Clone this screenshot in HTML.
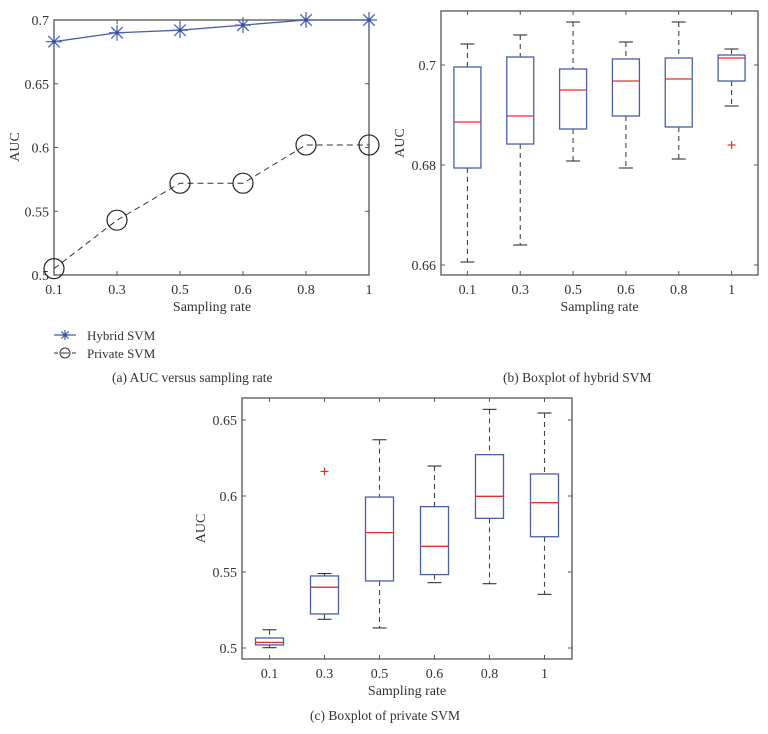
<!DOCTYPE html>
<html><head><meta charset="utf-8"><style>
html,body{margin:0;padding:0;background:#fff;}
svg{display:block;font-family:"Liberation Serif",serif;}
</style></head><body>
<svg id="fig" width="768" height="734" viewBox="0 0 768 734" xmlns="http://www.w3.org/2000/svg"></svg>
<script>
// Panel (a) data
const catsA = ["0.1","0.3","0.5","0.6","0.8","1"];
const hybridA = [0.683,0.690,0.692,0.696,0.700,0.700];
const privateA = [0.505,0.543,0.572,0.572,0.602,0.602];
const ticksA = [0.5,0.55,0.6,0.65,0.7];
const tickLabelsA = ["0.5","0.55","0.6","0.65","0.7"];
// Panel (b) data: hybrid boxplot
const catsB = ["0.1","0.3","0.5","0.6","0.8","1"];
const bLow = [0.6606,0.6640,0.6808,0.6794,0.6812,0.6918];
const bQ1 = [0.6794,0.6842,0.6872,0.6898,0.6876,0.6968];
const bMed = [0.6886,0.6898,0.6950,0.6968,0.6972,0.7014];
const bQ3 = [0.6996,0.7016,0.6992,0.7012,0.7014,0.7020];
const bHigh = [0.7042,0.7060,0.7086,0.7046,0.7086,0.7032];
const bOutCat = [5];
const bOutVal = [0.6840];
const ticksB = [0.66,0.68,0.7];
const tickLabelsB = ["0.66","0.68","0.7"];
// Panel (c) data: private boxplot
const catsC = ["0.1","0.3","0.5","0.6","0.8","1"];
const cLow = [0.5002,0.5189,0.5132,0.5430,0.5423,0.5353];
const cQ1 = [0.5020,0.5224,0.5441,0.5483,0.5853,0.5732];
const cMed = [0.5037,0.5400,0.5759,0.5669,0.5998,0.5956];
const cQ3 = [0.5066,0.5474,0.5993,0.5930,0.6272,0.6145];
const cHigh = [0.5120,0.5490,0.6370,0.6197,0.6570,0.6546];
const cOutCat = [1];
const cOutVal = [0.6162];
const ticksC = [0.5,0.55,0.6,0.65];
const tickLabelsC = ["0.5","0.55","0.6","0.65"];

const svg = document.getElementById('fig');
const NS = "http://www.w3.org/2000/svg";
function mk(tag, attrs, parent){
  const e = document.createElementNS(NS, tag);
  for (const k in attrs) e.setAttribute(k, attrs[k]);
  (parent||svg).appendChild(e);
  return e;
}
function txt(x,y,s,size,anchor,parent){
  const t = mk('text',{x:x,y:y,'font-size':size,'text-anchor':anchor||'middle',fill:'#333'},parent);
  t.textContent = s;
  return t;
}
function frame(g, L,T,R,B, cats, xf, ticks, labels, yf, name){
  const fr = mk('rect',{x:L,y:T,width:R-L,height:B-T,fill:'none',stroke:'#555','stroke-width':1.3},g);
  
  
  cats.forEach((c,i)=>{
    const x = xf(i);
    mk('line',{x1:x,y1:B,x2:x,y2:B-4,stroke:'#555'},g);
    mk('line',{x1:x,y1:T,x2:x,y2:T+4,stroke:'#555'},g);
    const t = txt(x,B+19,c,14,'middle',g);
    
    
  });
  ticks.forEach((v,i)=>{
    const y = yf(v);
    mk('line',{x1:L,y1:y,x2:L+4,y2:y,stroke:'#555'},g);
    mk('line',{x1:R,y1:y,x2:R-4,y2:y,stroke:'#555'},g);
    const t = txt(L-5,y+5,labels[i],14,'end',g);
    
    
  });
}

// ---------- Panel (a)
(function(){
  const g = mk('g',{});
  
  
  const L=54,R=369,T=20,B=275;
  const xf = i => L + i*(R-L)/(catsA.length-1);
  const yf = v => B - (v-0.5)/(0.7-0.5)*(B-T);
  frame(g,L,T,R,B,catsA,xf,ticksA,tickLabelsA,yf,'panel-a');
  const pp = privateA.map((v,i)=>xf(i)+','+yf(v)).join(' ');
  const pl = mk('polyline',{points:pp,fill:'none',stroke:'#333','stroke-width':1,'stroke-dasharray':'6,4'},g);
  
  
  privateA.forEach((v,i)=>{
    const c = mk('circle',{cx:xf(i),cy:yf(v),r:10,fill:'none',stroke:'#222','stroke-width':1.2},g);
    
    
  });
  const hp = hybridA.map((v,i)=>xf(i)+','+yf(v)).join(' ');
  const hl = mk('polyline',{points:hp,fill:'none',stroke:'#4a5fa8','stroke-width':1.3},g);
  
  
  function star(x,y,s,parent){
    const sg = mk('g',{stroke:'#5068b8','stroke-width':1.3},parent);
    mk('line',{x1:x-s,y1:y,x2:x+s,y2:y},sg);
    mk('line',{x1:x,y1:y-s,x2:x,y2:y+s},sg);
    mk('line',{x1:x-s*0.72,y1:y-s*0.72,x2:x+s*0.72,y2:y+s*0.72},sg);
    mk('line',{x1:x-s*0.72,y1:y+s*0.72,x2:x+s*0.72,y2:y-s*0.72},sg);
    mk('circle',{cx:x,cy:y,r:1.8,fill:'#3a4f98',stroke:'none'},sg);
    return sg;
  }
  hybridA.forEach((v,i)=>{
    const s = star(xf(i),yf(v),8,g);
    
    
  });
  const xl = txt(212,311,'Sampling rate',14,'middle',g);
  
  
  const yl = txt(0,0,'AUC',14,'middle',g);
  yl.setAttribute('transform','translate(19,147) rotate(-90)');
  
  
  const lg = mk('g',{},g);
  
  
  const e1 = mk('g',{},lg);
  
  
  mk('line',{x1:54,y1:335,x2:76,y2:335,stroke:'#4a5fa8','stroke-width':1.2},e1);
  star(65,335,5,e1);
  txt(87,340,'Hybrid SVM',13,'start',e1);
  const e2 = mk('g',{},lg);
  
  
  mk('line',{x1:54,y1:353,x2:58,y2:353,stroke:'#333'},e2);
  mk('line',{x1:72,y1:353,x2:76,y2:353,stroke:'#333'},e2);
  mk('circle',{cx:65,cy:353,r:5,fill:'none',stroke:'#333'},e2);
  mk('line',{x1:61,y1:353,x2:69,y2:353,stroke:'#333'},e2);
  txt(87,358,'Private SVM',13,'start',e2);
  const cap = txt(112,382,'(a)  AUC versus sampling rate',13.5,'start',g);
  
  
})();

function boxPanel(name, L,R,T,B, vmin,vmax, cats, low,q1,med,q3,high,outCat,outVal, ticks,labels, bw, xlabelY, ylabelX, caption, capX, capY){
  const g = mk('g',{});
  
  
  const step = (R-L)/cats.length;
  const xf = i => L + step*(i+0.5);
  const yf = v => B - (v-vmin)/(vmax-vmin)*(B-T);
  frame(g,L,T,R,B,cats,xf,ticks,labels,yf,name);
  cats.forEach((c,i)=>{
    const x = xf(i);
    const bg = mk('g',{},g);
    
    
    mk('line',{x1:x,y1:yf(high[i]),x2:x,y2:yf(q3[i]),stroke:'#444','stroke-dasharray':'5,4','stroke-width':1.1},bg);
    mk('line',{x1:x,y1:yf(q1[i]),x2:x,y2:yf(low[i]),stroke:'#444','stroke-dasharray':'5,4','stroke-width':1.1},bg);
    mk('line',{x1:x-7,y1:yf(high[i]),x2:x+7,y2:yf(high[i]),stroke:'#333','stroke-width':1.1},bg);
    mk('line',{x1:x-7,y1:yf(low[i]),x2:x+7,y2:yf(low[i]),stroke:'#333','stroke-width':1.1},bg);
    mk('rect',{x:x-bw/2,y:yf(q3[i]),width:bw,height:Math.max(1,yf(q1[i])-yf(q3[i])),fill:'none',stroke:'#4a5fa8','stroke-width':1.3},bg);
    mk('line',{x1:x-bw/2,y1:yf(med[i]),x2:x+bw/2,y2:yf(med[i]),stroke:'#e03030','stroke-width':1.3},bg);
  });
  outCat.forEach((ci,k)=>{
    const x = xf(ci), y = yf(outVal[k]);
    const o = mk('g',{stroke:'#e03030','stroke-width':1.2},g);
    
    
    mk('line',{x1:x-4,y1:y,x2:x+4,y2:y},o);
    mk('line',{x1:x,y1:y-4,x2:x,y2:y+4},o);
  });
  const xl = txt((L+R)/2,xlabelY,'Sampling rate',14,'middle',g);
  
  
  const yl = txt(0,0,'AUC',14,'middle',g);
  yl.setAttribute('transform','translate('+ylabelX+','+((T+B)/2)+') rotate(-90)');
  
  
  const cap = txt(capX,capY,caption,13.5,'start',g);
  
  
}
boxPanel('panel-b',441,758,11,275, 0.7-(275-65)/5000, 0.7+(65-11)/5000,
  catsB,bLow,bQ1,bMed,bQ3,bHigh,bOutCat,bOutVal,ticksB,tickLabelsB,27,311,404,
  '(b)  Boxplot of hybrid SVM',503,382);
boxPanel('panel-c',242,572,398,659, 0.5-(659-648)/1520, 0.5+(648-398)/1520,
  catsC,cLow,cQ1,cMed,cQ3,cHigh,cOutCat,cOutVal,ticksC,tickLabelsC,28,695,205,
  '(c)  Boxplot of private SVM',310,720);
</script>
</body></html>
